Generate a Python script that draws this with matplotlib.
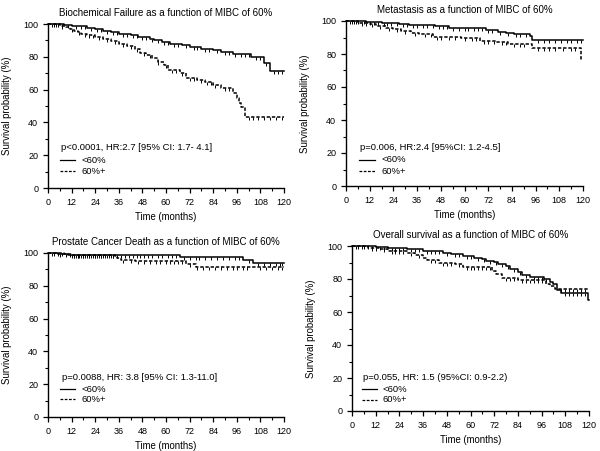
import numpy as np
import matplotlib
matplotlib.use("Agg")
import matplotlib.pyplot as plt
from matplotlib.ticker import MultipleLocator

plt.rcParams['font.family'] = ['Liberation Sans', 'DejaVu Sans']

# ---------------- data ----------------
titles = ["Biochemical Failure as a function of MIBC of 60%",
          "Metastasis as a function of MIBC of 60%",
          "Prostate Cancer Death as a function of MIBC of 60%",
          "Overall survival as a function of MIBC of 60%"]
stats = ["p<0.0001, HR:2.7 [95% CI: 1.7- 4.1]",
         "p=0.006, HR:2.4 [95%CI: 1.2-4.5]",
         "p=0.0088, HR: 3.8 [95% CI: 1.3-11.0]",
         "p=0.055, HR: 1.5 (95%CI: 0.9-2.2)"]
group_labels = ["<60%", "60%+"]

# Biochemical failure
bf_low_t = [0, 8, 12, 16, 20, 24, 28, 32, 36, 42, 46, 52, 54, 58, 62, 68, 72, 78, 84, 88, 94, 103, 110, 113, 120]
bf_low_s = [100, 99.5, 99, 98.5, 97.5, 97, 96, 95, 94, 93, 92, 91, 90, 89, 88, 87, 86, 85, 84, 83, 82, 80, 76, 71.5, 71.5]
bf_low_c = [3, 5, 7, 10, 14, 17, 19, 22, 25, 27, 30, 33, 35, 38, 40, 43, 45, 48, 50, 53, 56, 59, 61, 64, 66, 70,
            74, 76, 80, 82, 86, 90, 92, 95, 98, 100, 102, 106, 108, 111, 115, 117, 119]
bf_high_t = [0, 6, 9, 11, 13, 15, 17, 20, 24, 28, 32, 36, 40, 44, 47, 50, 53, 56, 59, 61, 67, 70, 76, 80, 84, 88,
             94, 96, 97, 98, 100, 120]
bf_high_s = [100, 99, 98, 97, 96, 95, 94, 93, 92, 91, 89.5, 88, 86.5, 85, 82.5, 81, 79, 77, 75, 72, 70, 67, 66,
             64.5, 63, 61, 58, 55, 52, 49.5, 43.5, 43.5]
bf_high_c = [2, 4, 7, 12, 16, 19, 21, 23, 26, 30, 34, 38, 42, 45, 49, 52, 56, 60, 63, 65, 68, 72, 74, 78, 81, 83,
             85, 90, 92, 102, 104, 107, 110, 113, 116, 119]

# Metastasis
met_low_t = [0, 10, 18, 24, 27, 32, 45, 52, 58, 71, 77, 81, 85, 93, 94, 120]
met_low_s = [100, 99.5, 99, 98.5, 98, 97.5, 97, 96, 95.5, 94.5, 93.5, 93, 92, 91, 88.5, 88.5]
met_low_c = [2, 4, 6, 9, 12, 14, 16, 19, 21, 23, 26, 29, 31, 34, 36, 39, 41, 44, 47, 49, 51, 54, 57, 60, 62, 65,
             67, 69, 72, 74, 78, 82, 86, 88, 91, 97, 100, 103, 106, 109, 112, 114, 117, 119]
met_high_t = [0, 6, 12, 15, 20, 24, 28, 33, 37, 44, 58, 62, 68, 76, 82, 94, 119, 120]
met_high_s = [100, 99, 98, 97, 96, 95, 94, 93, 92, 90.5, 90, 89.5, 88, 87, 86, 83.5, 77, 77]
met_high_c = [3, 5, 8, 10, 13, 17, 22, 26, 30, 35, 40, 43, 46, 48, 52, 55, 60, 64, 66, 70, 72, 75, 79, 81, 85,
              88, 90, 97, 100, 103, 106, 110, 114, 116]

# Prostate cancer death
pcd_low_t = [0, 5, 10, 66, 67, 99, 104, 120]
pcd_low_s = [100, 99.5, 99, 98.5, 97.5, 95.7, 93.8, 93.8]
pcd_low_c = [3, 6, 9, 12, 13, 14, 15, 16, 17, 18, 19, 20, 21, 22, 23, 24, 25, 26, 27, 28, 30, 32, 33, 35, 37, 39,
             41, 43, 45, 47, 49, 51, 53, 56, 58, 61, 63, 65, 69, 72, 75, 77, 80, 83, 86, 89, 92, 95, 97, 102,
             107, 110, 113, 116, 118, 119]
pcd_high_t = [0, 8, 12, 20, 34, 35, 37, 40, 44, 70, 75, 120]
pcd_high_s = [100, 99.5, 99, 98.5, 98, 97, 96, 95.5, 95, 93.3, 91.5, 91.5]
pcd_high_c = [2, 5, 7, 11, 13, 15, 18, 21, 24, 27, 29, 31, 33, 38, 42, 46, 49, 52, 55, 57, 60, 62, 64, 66, 68,
              72, 76, 79, 82, 85, 88, 91, 94, 96, 99, 101, 108, 111, 114, 117, 119]

# Overall survival
os_low_t = [0, 12, 18, 28, 36, 46, 50, 56, 62, 66, 68, 72, 74, 78, 80, 84, 86, 90, 97, 100, 102, 104, 106, 119.5, 120]
os_low_s = [100, 99.5, 98.8, 98, 97.2, 96, 95, 94, 93, 92, 91, 90.3, 89, 88, 86, 84.5, 82.5, 81, 80, 78, 77,
            73.5, 71.5, 67, 67]
os_low_c = [2, 5, 8, 10, 14, 16, 20, 22, 24, 26, 30, 32, 34, 38, 40, 42, 44, 48, 52, 54, 58, 60, 64, 67, 70, 73,
            76, 79, 82, 85, 88, 92, 94, 96, 98, 108, 110, 112, 114, 116, 118]
os_high_t = [0, 8, 14, 18, 28, 32, 36, 38, 44, 52, 56, 71, 73, 76, 84, 98, 100, 103, 120]
os_high_s = [100, 99, 98, 96.8, 96, 94.7, 93, 91.7, 90, 89, 87.5, 85, 83, 80.5, 79.6, 77, 76, 74, 74]
os_high_c = [3, 6, 10, 12, 16, 20, 22, 24, 26, 30, 34, 40, 42, 46, 48, 50, 54, 58, 60, 62, 64, 66, 68, 70, 78,
             80, 82, 86, 88, 90, 92, 94, 96, 106, 108, 110, 112, 114, 116, 118]

panels = [
    (bf_low_t, bf_low_s, bf_low_c, bf_high_t, bf_high_s, bf_high_c),
    (met_low_t, met_low_s, met_low_c, met_high_t, met_high_s, met_high_c),
    (pcd_low_t, pcd_low_s, pcd_low_c, pcd_high_t, pcd_high_s, pcd_high_c),
    (os_low_t, os_low_s, os_low_c, os_high_t, os_high_s, os_high_c),
]

# ---------------- layout ----------------
W, H = 600, 451
fig = plt.figure(figsize=(W / 100, H / 100), dpi=100)

# pixel boxes: left, top, right, bottom
boxes = [(48, 24, 284, 188), (346, 21, 583, 186), (48, 253, 284, 417), (352, 246, 589, 411)]
# annotation positions (axes fraction): text x, text y, line x0, x1, label x, line y1, line y2
ann = [(0.057, 0.245, 0.05, 0.115, 0.14, 0.17, 0.102),
       (0.057, 0.232, 0.055, 0.122, 0.15, 0.158, 0.09),
       (0.059, 0.238, 0.05, 0.115, 0.14, 0.17, 0.108),
       (0.046, 0.200, 0.041, 0.105, 0.13, 0.133, 0.067)]

dash = (0, (2.2, 1.2))
cmark = [(0, 0), (0, -1)]

def surv_at(t, s, c):
    t = np.asarray(t, float); s = np.asarray(s, float); c = np.asarray(c, float)
    idx = np.searchsorted(t, c, side='right') - 1
    return s[idx]

for i, (l, tp, r, b) in enumerate(boxes):
    ax = fig.add_axes([l / W, (H - b) / H, (r - l) / W, (b - tp) / H])
    lt, ls, lc, ht, hs, hc = panels[i]
    ax.step(lt, ls, where='post', color='black', lw=1.1, clip_on=False)
    ax.plot(lc, surv_at(lt, ls, lc), ls='none', marker=cmark, ms=5, mec='black', mew=0.7, clip_on=False)
    ax.step(ht, hs, where='post', color='black', lw=1.1, ls=dash, clip_on=False)
    ax.plot(hc, surv_at(ht, hs, hc), ls='none', marker=cmark, ms=5, mec='black', mew=0.7, clip_on=False)

    ax.set_xlim(0, 120)
    ax.set_ylim(0, 100)
    ax.xaxis.set_major_locator(MultipleLocator(12))
    ax.xaxis.set_minor_locator(MultipleLocator(6))
    ax.yaxis.set_major_locator(MultipleLocator(20))
    ax.yaxis.set_minor_locator(MultipleLocator(10))
    for sp in ('top', 'right'):
        ax.spines[sp].set_visible(False)
    for sp in ('left', 'bottom'):
        ax.spines[sp].set_linewidth(1.0)
    ax.tick_params(which='major', direction='out', length=3.5, width=0.9, labelsize=6.5, pad=3.5)
    ax.tick_params(which='minor', direction='out', length=2, width=0.8)
    ax.set_xlabel("Time (months)", fontsize=6.9)
    ax.set_ylabel("Survival probability (%)", fontsize=6.9)
    ax.xaxis.set_label_coords(0.5, -0.145)
    ax.yaxis.set_label_coords(-36 / (r - l), 0.5)
    ax.set_title(titles[i], fontsize=7, pad=6)

    tx, ty, x0, x1, lx, y1, y2 = ann[i]
    ax.text(tx, ty, stats[i], transform=ax.transAxes, fontsize=6.8, va='center', ha='left')
    ax.plot([x0, x1], [y1, y1], transform=ax.transAxes, color='black', lw=0.9)
    ax.plot([x0, x1], [y2, y2], transform=ax.transAxes, color='black', lw=0.9, ls=dash)
    ax.text(lx, y1, group_labels[0], transform=ax.transAxes, fontsize=6.8, va='center', ha='left')
    ax.text(lx, y2, group_labels[1], transform=ax.transAxes, fontsize=6.8, va='center', ha='left')

fig.savefig("out.png", dpi=100)
